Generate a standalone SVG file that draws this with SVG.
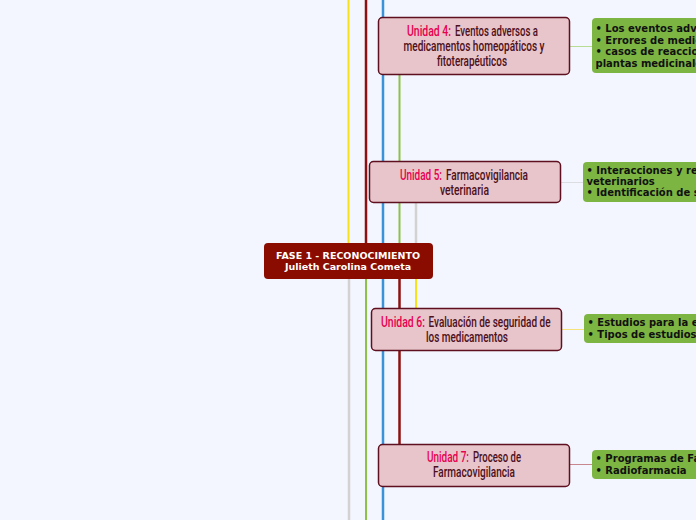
<svg xmlns="http://www.w3.org/2000/svg" width="696" height="520" viewBox="0 0 696 520">
<style>
.unit rect{fill:#e7c5ca;stroke:#5e1020;stroke-width:1.5}
.ut{font-family:Roboto,"Open Sans",sans-serif;font-size:14px;font-weight:500;fill:#4d0f1c}
.c{text-anchor:middle}
.lbl{fill:#e8004f}
.leaf rect{fill:#7db543}
.lt{font-family:"DejaVu Sans",Verdana,sans-serif;font-size:10px;font-weight:bold;fill:#111}
.ct{font-family:"DejaVu Sans",Verdana,sans-serif;font-size:9.5px;font-weight:bold;fill:#fff;text-anchor:middle}
</style>
<rect width="696" height="520" fill="#f3f6fe"/>
<g id="connectors" fill="none">
<line x1="348.5" y1="0" x2="348.5" y2="243" stroke="#f7e11b" stroke-width="2"/>
<line x1="366" y1="0" x2="366" y2="243" stroke="#8e1111" stroke-width="2.5"/>
<line x1="383" y1="0" x2="383" y2="520" stroke="#3a93d8" stroke-width="2.5"/>
<line x1="399.5" y1="75" x2="399.5" y2="243" stroke="#8cc24a" stroke-width="2"/>
<line x1="416" y1="203" x2="416" y2="243" stroke="#d2d2d2" stroke-width="2.5"/>
<line x1="349" y1="279" x2="349" y2="520" stroke="#d2d2d2" stroke-width="2.5"/>
<line x1="366" y1="279" x2="366" y2="520" stroke="#8cc24a" stroke-width="2"/>
<line x1="399.5" y1="279" x2="399.5" y2="444" stroke="#8e1111" stroke-width="2.5"/>
<line x1="416" y1="279" x2="416" y2="308" stroke="#f7e11b" stroke-width="2"/>
<line x1="570" y1="46.5" x2="592" y2="46.5" stroke="#b9dc94" stroke-width="1"/>
<line x1="561" y1="182.5" x2="583" y2="182.5" stroke="#dcdde3" stroke-width="1"/>
<line x1="562" y1="329.5" x2="584" y2="329.5" stroke="#f5e37a" stroke-width="1"/>
<line x1="570" y1="464.5" x2="592" y2="464.5" stroke="#c8868e" stroke-width="1"/>
</g>
<g id="central">
<rect x="264" y="243" width="169" height="36" rx="4" fill="#8a0b00"/>
<text class="ct" x="348" y="258.5">FASE 1 - RECONOCIMIENTO</text>
<text class="ct" x="348" y="270">Julieth Carolina Cometa</text>
</g>
<g id="unit4" class="unit">
<rect x="378.5" y="17.5" width="191" height="57" rx="4"/>
<text class="ut lbl" x="407" y="36" textLength="44" lengthAdjust="spacingAndGlyphs">Unidad 4:</text>
<text class="ut" x="455" y="36" textLength="83" lengthAdjust="spacingAndGlyphs">Eventos adversos a</text>
<text class="ut c" x="474" y="51" textLength="141" lengthAdjust="spacingAndGlyphs">medicamentos homeopáticos y</text>
<text class="ut c" x="472" y="66" textLength="70" lengthAdjust="spacingAndGlyphs">fitoterapéuticos</text>
</g>
<g id="unit5" class="unit">
<rect x="369.5" y="161.5" width="191" height="41" rx="4"/>
<text class="ut lbl" x="400" y="179.5" textLength="42" lengthAdjust="spacingAndGlyphs">Unidad 5:</text>
<text class="ut" x="446" y="179.5" textLength="82" lengthAdjust="spacingAndGlyphs">Farmacovigilancia</text>
<text class="ut c" x="464.5" y="195" textLength="49" lengthAdjust="spacingAndGlyphs">veterinaria</text>
</g>
<g id="unit6" class="unit">
<rect x="371.5" y="308.5" width="190" height="42" rx="4"/>
<text class="ut lbl" x="381" y="326.5" textLength="44" lengthAdjust="spacingAndGlyphs">Unidad 6:</text>
<text class="ut" x="428.5" y="326.5" textLength="122" lengthAdjust="spacingAndGlyphs">Evaluación de seguridad de</text>
<text class="ut c" x="467" y="341.5" textLength="82" lengthAdjust="spacingAndGlyphs">los medicamentos</text>
</g>
<g id="unit7" class="unit">
<rect x="378.5" y="444.5" width="191" height="42" rx="4"/>
<text class="ut lbl" x="427" y="462" textLength="42" lengthAdjust="spacingAndGlyphs">Unidad 7:</text>
<text class="ut" x="473" y="462" textLength="48" lengthAdjust="spacingAndGlyphs">Proceso de</text>
<text class="ut c" x="474" y="477" textLength="82" lengthAdjust="spacingAndGlyphs">Farmacovigilancia</text>
</g>
<g id="leaf4" class="leaf">
<rect x="592" y="18" width="120" height="55" rx="4"/>
<text class="lt" x="595.5" y="32">• Los eventos adv</text>
<text class="lt" x="595.5" y="43.5">• Errores de medic</text>
<text class="lt" x="595.5" y="55">• casos de reaccio</text>
<text class="lt" x="595.5" y="66.5">plantas medicinale</text>
</g>
<g id="leaf5" class="leaf">
<rect x="583" y="162" width="130" height="40" rx="4"/>
<text class="lt" x="586.5" y="174">• Interacciones y re</text>
<text class="lt" x="586.5" y="185">veterinarios</text>
<text class="lt" x="586.5" y="196">• Identificación de s</text>
</g>
<g id="leaf6" class="leaf">
<rect x="584" y="314" width="130" height="29" rx="4"/>
<text class="lt" x="587.5" y="326">• Estudios para la e</text>
<text class="lt" x="587.5" y="337.5">• Tipos de estudios</text>
</g>
<g id="leaf7" class="leaf">
<rect x="592" y="450" width="120" height="29" rx="4"/>
<text class="lt" x="595.5" y="462">• Programas de Fa</text>
<text class="lt" x="595.5" y="473.5">• Radiofarmacia</text>
</g>
</svg>
